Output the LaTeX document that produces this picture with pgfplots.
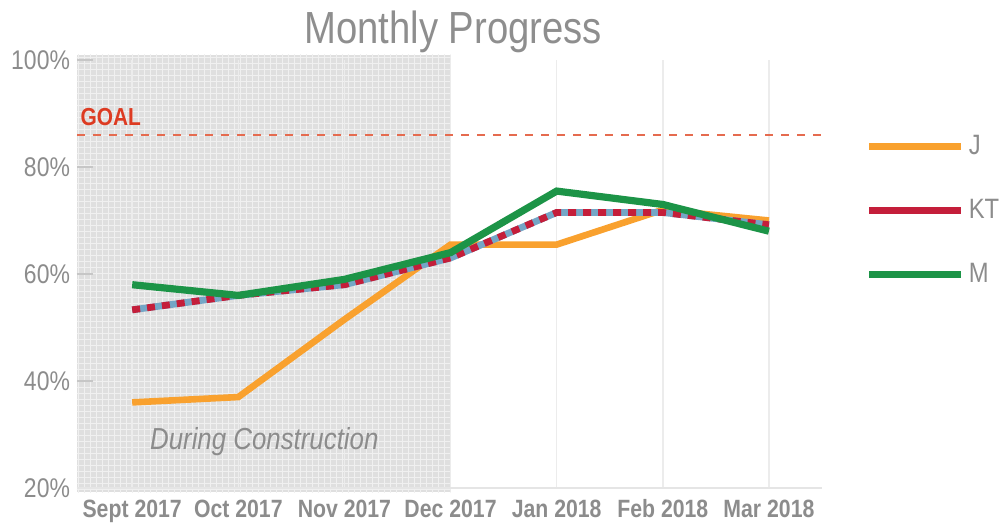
\documentclass[border=0pt]{standalone}
\usepackage{fontspec}
\setmainfont{Liberation Sans}[FakeStretch=0.85]
\usepackage{pgfplots}
\pgfplotsset{compat=1.18}
\usetikzlibrary{patterns}
\definecolor{cJ}{HTML}{F9A12E}
\definecolor{cKTr}{HTML}{C41E3A}
\definecolor{cKTb}{HTML}{74A6C6}
\definecolor{cM}{HTML}{1C9447}
\definecolor{cText}{HTML}{8C8C8C}
\definecolor{cTitle}{HTML}{8E8E8E}
\definecolor{cGoal}{HTML}{E56B4F}
\definecolor{cGoalText}{HTML}{DD3B22}
\begin{document}
\begin{tikzpicture}
\begin{axis}[
  set layers,
  scale only axis, width=372.5pt, height=214pt,
  xmin=-0.52, xmax=6.5, ymin=20, ymax=100,
  clip=false,
  axis x line*=bottom, axis y line*=left,
  x axis line style={draw=gray!20, line width=0.6pt},
  y axis line style={draw=none},
  xtick={0,...,6},
  xticklabels={Sept 2017,Oct 2017,Nov 2017,Dec 2017,Jan 2018,Feb 2018,Mar 2018},
  xticklabel style={font=\bfseries\fontsize{12.5}{14}\selectfont, text=cText,
    anchor=base, yshift=-15pt},
  xtick style={draw=none},
  ytick={20,40,60,80,100},
  yticklabel={\pgfmathprintnumber{\tick}\%},
  yticklabel style={font=\fontsize{13.5}{15}\selectfont, text=cText},
  /pgf/number format/assume math mode=true,
  ytick style={draw=gray!45, line width=0.6pt},
  tick align=inside, major tick length=8pt,
  xmajorgrids, major x grid style={draw=gray!15, line width=0.8pt},
  legend style={at={(rel axis cs:1.058,0.835)}, anchor=north west, draw=none, fill=none,
    inner sep=0pt, font=\fontsize{14}{16}\selectfont, text=cText, row sep=17pt},
  legend cell align=left,
  legend image code/.code={\draw[#1] (0pt,0pt) -- (46pt,0pt);},
]
% construction shading
\addplot[draw=none, fill=gray!25, on layer=axis background, forget plot,
  postaction={pattern=grid, pattern color=gray!12}]
  coordinates {(-0.52,19.2) (3,19.2) (3,101) (-0.52,101)} -- cycle;
% goal
\addplot[cGoal, line width=1pt, dash pattern=on 4pt off 4pt, forget plot]
  coordinates {(-0.52,86) (6.5,86)};
% J
\addplot[cJ, line width=3.3pt, forget plot] coordinates {
 (0,36) (1,37) (2,51.5) (3,65.5) (4,65.5) (5,72) (6,70)};
% KT
\addplot[cKTb, line width=3.4pt, forget plot] coordinates {
 (0,53.3) (1,56) (2,58) (3,63) (4,71.5) (5,71.5) (6,69.2)};
\addplot[cKTr, line width=3.4pt, dash pattern=on 4pt off 3.5pt, forget plot] coordinates {
 (0,53.3) (1,56) (2,58) (3,63) (4,71.5) (5,71.5) (6,69.2)};
% M
\addplot[cM, line width=3.6pt, forget plot] coordinates {
 (0,58) (1,56) (2,59) (3,64) (4,75.5) (5,73) (6,68)};
\addlegendimage{cJ, line width=3.6pt}
\addlegendentry{J}
\addlegendimage{cKTr, line width=3.6pt}
\addlegendentry{KT}
\addlegendimage{cM, line width=3.6pt}
\addlegendentry{M}
\node[anchor=south west, text=cGoalText, font=\bfseries\fontsize{12.3}{14}\selectfont, inner sep=0pt]
  at (axis cs:-0.49,86) [yshift=4.5pt] {GOAL};
\node[text=cText, font=\itshape\fontsize{15.2}{17}\selectfont]
  at (axis cs:1.245,28.6) {During Construction};
\node[text=cTitle, font=\fontsize{22.5}{24}\selectfont]
  at (rel axis cs:0.505,1) [yshift=14pt] {Monthly Progress};
\end{axis}
\pgfresetboundingbox
\path (-38.5pt,-18.5pt) rectangle (462.5pt,244pt);
\end{tikzpicture}
\end{document}
